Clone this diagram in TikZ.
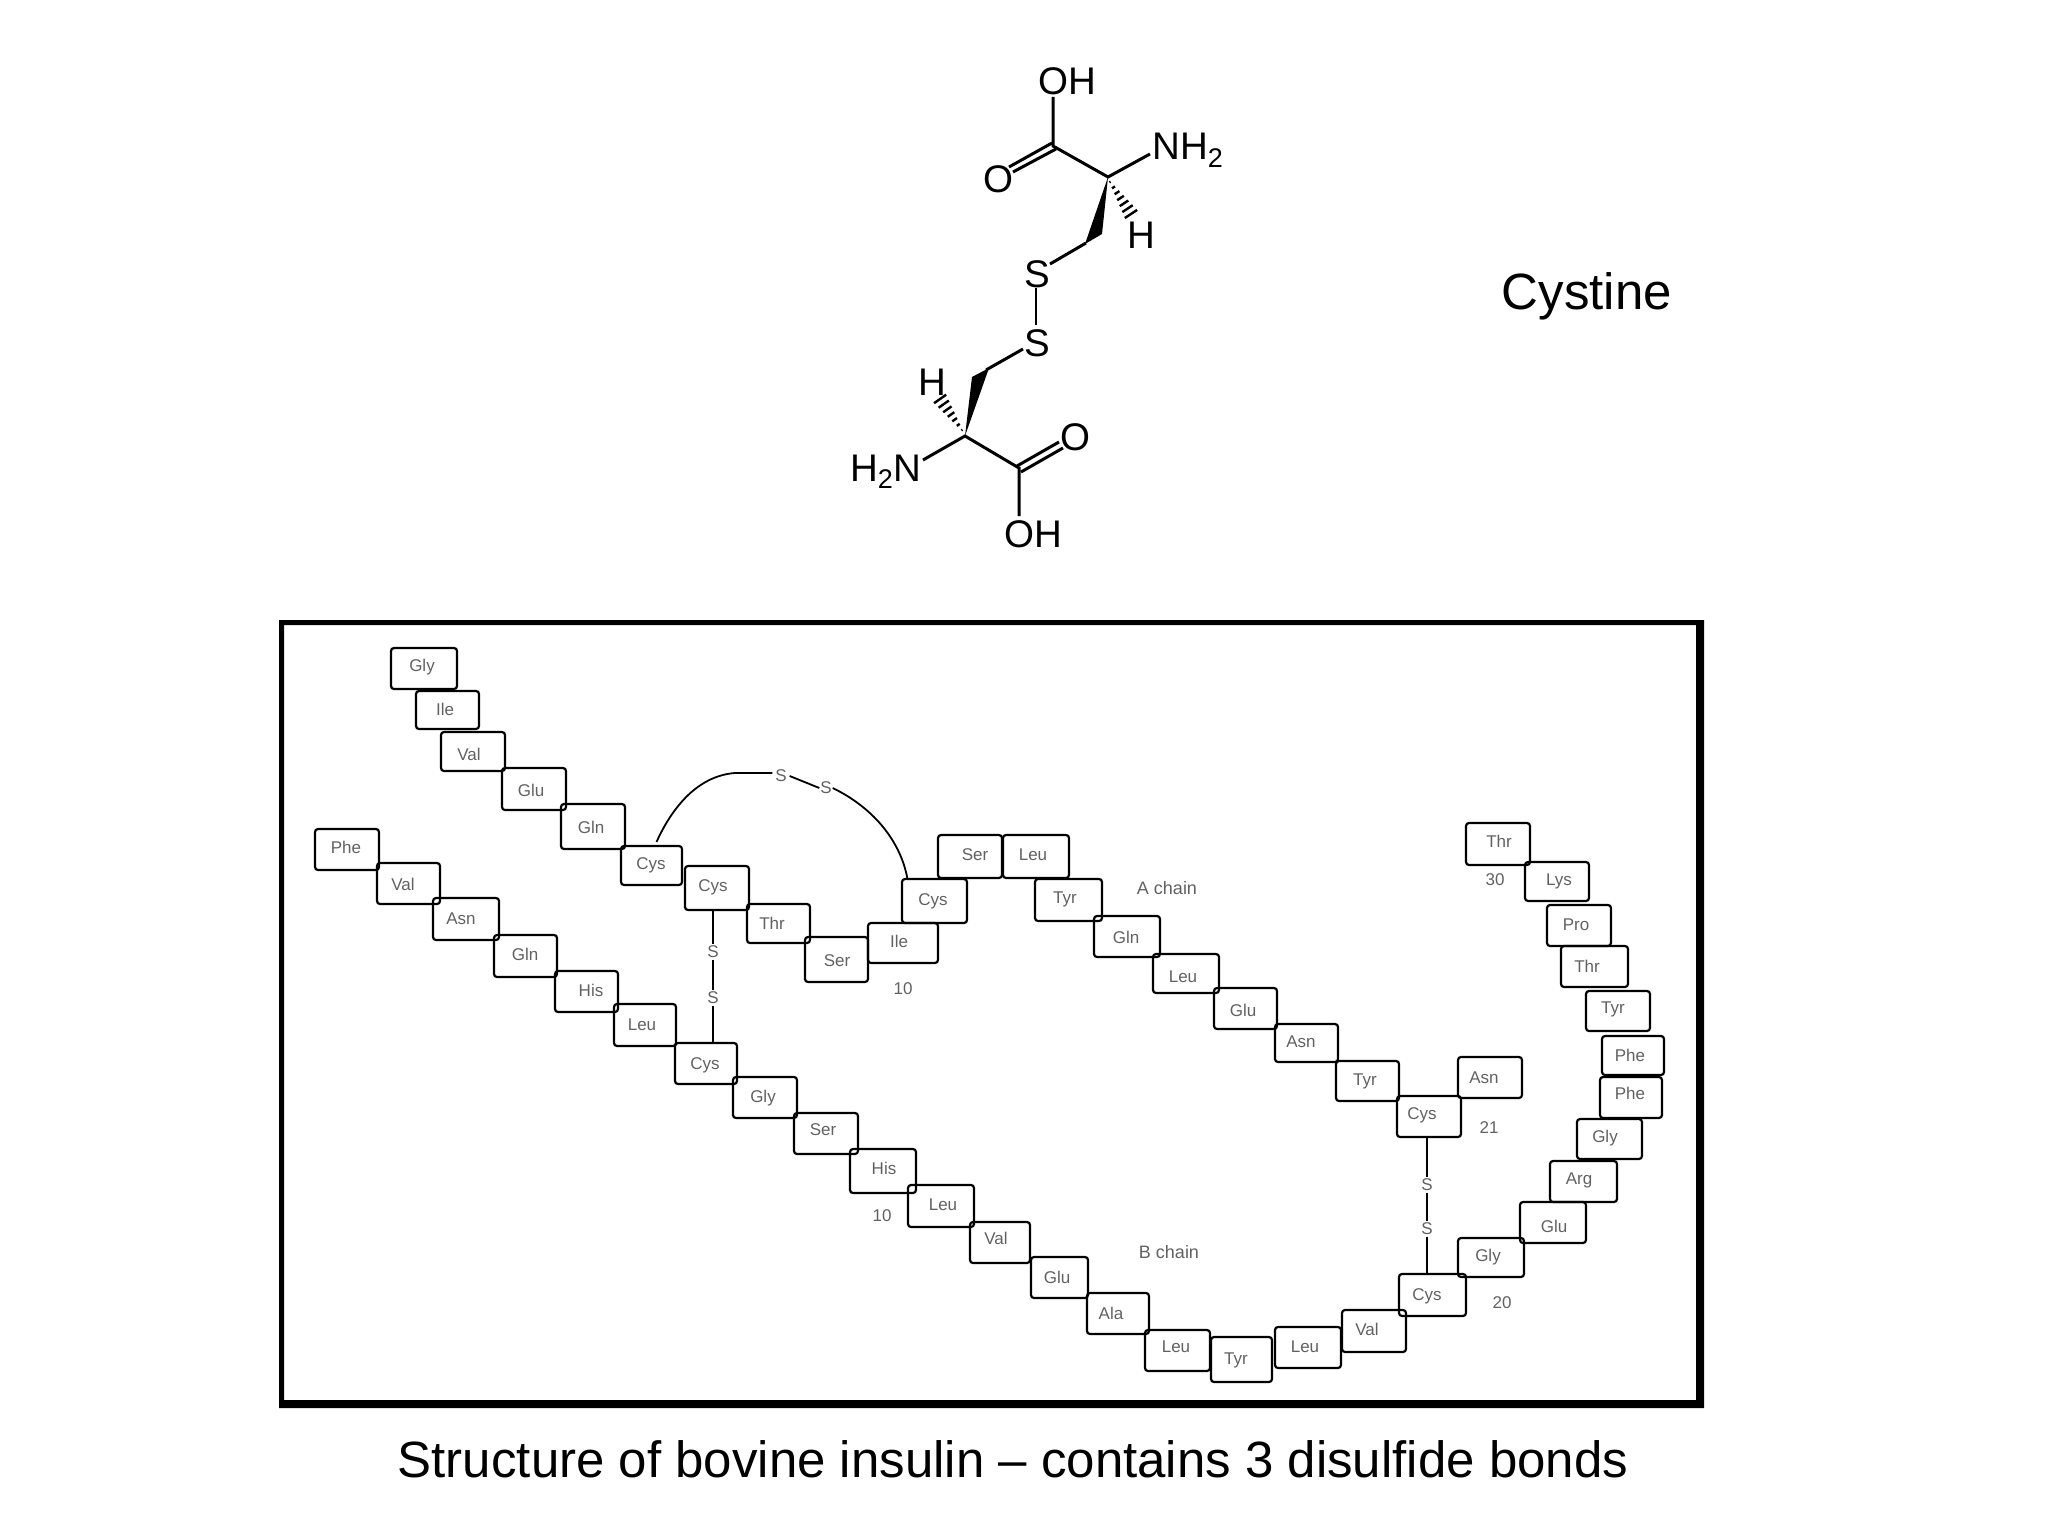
\documentclass[tikz,border=0pt]{standalone}
\usepackage{fontspec}
\setmainfont{Liberation Sans}
\usetikzlibrary{calc}
\newcommand{\fsz}[1]{\fontsize{#1}{#1}\selectfont}
\tikzset{
  resbox/.style={draw=black,line width=2.2pt,rounded corners=3pt,inner sep=0pt,outer sep=0pt},
  restext/.style={anchor=base,inner sep=0pt,text=black!62,font=\fsz{17}},
  sulf/.style={inner sep=1.5pt,outer sep=0pt,text=black!62,font=\fsz{17}},
  ssline/.style={draw=black,line width=2.2pt},
  arcline/.style={draw=black,line width=1.8pt},
  bond/.style={draw=black,line width=3pt},
  hashline/.style={draw=black,line width=2.4pt},
  atom/.style={inner sep=0pt,anchor=base,font=\fsz{38.5}},
  bigtext/.style={inner sep=0pt,anchor=base,font=\fsz{51}},
  frame/.style={fill=black,even odd rule}
}
% name, x1, y1, x2, y2, label x, label y, text
\newcommand{\res}[8]{%
  \node[resbox,minimum width=#4pt-#2pt,minimum height=#5pt-#3pt] (#1) at ({(#2+#4)/2},{(#3+#5)/2}) {};
  \node[restext] (#1t) at (#6,#7+6) {#8};
}
% hashed bond from a to b, half-width at b
\newcommand{\hashbond}[3]{%
  \foreach \t in {0.08,0.22,0.36,0.50,0.64,0.78,0.92}{
    \draw[hashline] ($(#1)!\t!(#2)!{\t*#3*1pt}!90:(#2)$) -- ($(#1)!\t!(#2)!{\t*#3*1pt}!-90:(#2)$);
  }%
}
\begin{document}
\begin{tikzpicture}[x=1pt,y=-1pt]
\useasboundingbox (0,0) rectangle (2048,1536);
% frame
\coordinate (fo1) at (279,620); \coordinate (fo2) at (1704,1408);
\coordinate (fi1) at (284,625); \coordinate (fi2) at (1696,1400);
\path[frame] (fo1) rectangle (fo2) (fi1) rectangle (fi2);
% A chain
\res{a1}{391}{648}{457}{689}{422}{665}{Gly}
\res{a2}{416}{691}{479}{729}{445}{709}{Ile}
\res{a3}{441}{732}{505}{771}{469}{754}{Val}
\res{a4}{502}{768}{566}{810}{531}{790}{Glu}
\res{a5}{561}{804}{625}{849}{591}{827}{Gln}
\res{a6}{621}{846}{682}{885}{651}{863}{Cys}
\res{a7}{685}{866}{749}{910}{713}{885}{Cys}
\res{a8}{747}{904}{810}{943}{772}{923}{Thr}
\res{a9}{805}{937}{868}{982}{837}{960}{Ser}
\res{a10}{868}{923}{938}{963}{899}{941}{Ile}
\res{a11}{902}{879}{967}{923}{933}{899}{Cys}
\res{a12}{938}{835}{1002}{878}{975}{854}{Ser}
\res{a13}{1003}{835}{1069}{878}{1033}{854}{Leu}
\res{a14}{1035}{879}{1102}{921}{1065}{897}{Tyr}
\res{a15}{1094}{916}{1160}{957}{1126}{937}{Gln}
\res{a16}{1153}{954}{1219}{993}{1183}{976}{Leu}
\res{a17}{1214}{988}{1277}{1029}{1243}{1010}{Glu}
\res{a18}{1275}{1024}{1338}{1062}{1301}{1041}{Asn}
\res{a19}{1336}{1061}{1399}{1101}{1365}{1079}{Tyr}
\res{a20}{1397}{1096}{1461}{1137}{1422}{1113}{Cys}
\res{a21}{1458}{1057}{1522}{1098}{1484}{1077}{Asn}
% B chain
\res{b1}{315}{829}{379}{870}{346}{847}{Phe}
\res{b2}{377}{863}{440}{904}{403}{884}{Val}
\res{b3}{433}{898}{499}{940}{461}{918}{Asn}
\res{b4}{494}{935}{557}{977}{525}{954}{Gln}
\res{b5}{555}{971}{618}{1012}{591}{990}{His}
\res{b6}{614}{1004}{676}{1046}{642}{1024}{Leu}
\res{b7}{675}{1043}{737}{1084}{705}{1063}{Cys}
\res{b8}{733}{1077}{797}{1118}{763}{1096}{Gly}
\res{b9}{794}{1113}{858}{1154}{823}{1129}{Ser}
\res{b10}{850}{1149}{916}{1193}{884}{1168}{His}
\res{b11}{908}{1185}{974}{1227}{943}{1204}{Leu}
\res{b12}{970}{1222}{1030}{1263}{996}{1238}{Val}
\res{b13}{1031}{1257}{1088}{1298}{1057}{1277}{Glu}
\res{b14}{1087}{1293}{1149}{1334}{1111}{1313}{Ala}
\res{b15}{1145}{1330}{1210}{1371}{1176}{1346}{Leu}
\res{b16}{1211}{1337}{1272}{1382}{1236}{1358}{Tyr}
\res{b17}{1275}{1327}{1341}{1368}{1305}{1346}{Leu}
\res{b18}{1342}{1310}{1406}{1352}{1367}{1329}{Val}
\res{b19}{1399}{1274}{1466}{1316}{1427}{1294}{Cys}
\res{b20}{1458}{1238}{1524}{1277}{1488}{1255}{Gly}
\res{b21}{1520}{1202}{1586}{1243}{1554}{1226}{Glu}
\res{b22}{1550}{1161}{1617}{1202}{1579}{1178}{Arg}
\res{b23}{1577}{1119}{1642}{1159}{1605}{1136}{Gly}
\res{b24}{1600}{1077}{1662}{1118}{1630}{1093}{Phe}
\res{b25}{1602}{1036}{1664}{1075}{1630}{1055}{Phe}
\res{b26}{1586}{991}{1650}{1031}{1613}{1007}{Tyr}
\res{b27}{1561}{946}{1628}{987}{1587}{966}{Thr}
\res{b28}{1547}{905}{1611}{946}{1576}{924}{Pro}
\res{b29}{1525}{862}{1589}{901}{1559}{879}{Lys}
\res{b30}{1466}{823}{1530}{865}{1499}{841}{Thr}
% chain labels and numbers
\node[restext,font=\fsz{18}] (lA) at (1167,894) {A chain};
\node[restext,font=\fsz{18}] (lB) at (1169,1258) {B chain};
\node[restext] (n10a) at (903,994) {10};
\node[restext] (n10b) at (882,1221) {10};
\node[restext] (n20) at (1502,1308) {20};
\node[restext] (n21) at (1489,1133) {21};
\node[restext] (n30) at (1495,885) {30};
% disulfide bridges
\node[sulf] (s1) at (713,952) {S};
\node[sulf] (s2) at (713,998) {S};
\draw[ssline] (s1 |- a7.south) -- (s1.north);
\draw[ssline] (s1.south) -- (s2.north);
\draw[ssline] (s2.south) -- (s2 |- b7.north);
\node[sulf] (s3) at (1427,1185) {S};
\node[sulf] (s4) at (1427,1229) {S};
\draw[ssline] (s3 |- a20.south) -- (s3.north);
\draw[ssline] (s3.south) -- (s4.north);
\draw[ssline] (s4.south) -- (s4 |- b19.north);
\node[sulf,inner sep=3pt] (s5) at (781,776) {S};
\node[sulf,inner sep=1pt] (s6) at (826,788) {S};
\draw[arcline] ($(a6.north)+(5,-4)$) .. controls (670,812) and (695,776) .. (735,773) -- ($(s5.west)+(0,-3)$);
\draw[arcline] (s5.east) -- (s6.west);
\draw[arcline] (s6.east) .. controls (870,806) and (900,838) .. ($(a11.north)+(-27,0)$);
% cystine: upper half
\coordinate (ca1) at (1108,177);
\coordinate (cc1) at (1053,146);
\coordinate (ch1) at (1086,243);
\node[atom] (oh1) at (1067,95) {OH};
\node[atom] (o1) at (998,192) {O};
\node[atom,anchor=base west] (nh1) at (1152,160) {NH\raisebox{-0.2em}{\fsz{27}2}};
\node[atom] (h1) at (1141,248) {H};
\node[atom] (s7) at (1037,287) {S};
\node[atom] (s8) at (1037,356) {S};
\coordinate (ohb1) at (1053,97);
\coordinate (nb1) at (1150,154);
\coordinate (sb1) at (1050,264);
\draw[bond] (ohb1) -- (cc1) -- (ca1) -- (nb1);
\draw[bond] (1052,143) -- (1009,167);
\draw[bond] (1056,149) -- (1013,172);
\fill (ca1) -- (1085,244) -- (1102,234) -- cycle;
\draw[bond] (ch1) -- (sb1);
\hashbond{1108,179}{1133,217}{8}
\coordinate (ssa) at (1036,288); \coordinate (ssb) at (1036,325);
\draw[bond,line width=2.6pt] (ssa) -- (ssb);
% cystine: lower half
\coordinate (ca2) at (965,436);
\coordinate (cc2) at (1019,468);
\coordinate (ch2) at (986,370);
\node[atom] (oh2) at (1033,547) {OH};
\node[atom] (o2) at (1075,450) {O};
\node[atom,anchor=base east] (nh2) at (921,481) {H\raisebox{-0.2em}{\fsz{27}2}N};
\node[atom] (h2) at (932,395) {H};
\coordinate (ohb2) at (1019,516);
\coordinate (nb2) at (923,460);
\coordinate (sb2) at (1023,349);
\draw[bond] (ohb2) -- (cc2) -- (ca2) -- (nb2);
\draw[bond] (1017,466) -- (1059,442);
\draw[bond] (1021,472) -- (1063,448);
\fill (ca2) -- (972,377) -- (989,368) -- cycle;
\draw[bond] (ch2) -- (sb2);
\hashbond{964,433}{938,396}{8}
% titles
\node[bigtext] (cyst) at (1587,309) {Cystine};
\node[bigtext] (capt) at (1013,1477) {Structure of bovine insulin – contains 3 disulfide bonds};
\end{tikzpicture}
\end{document}
